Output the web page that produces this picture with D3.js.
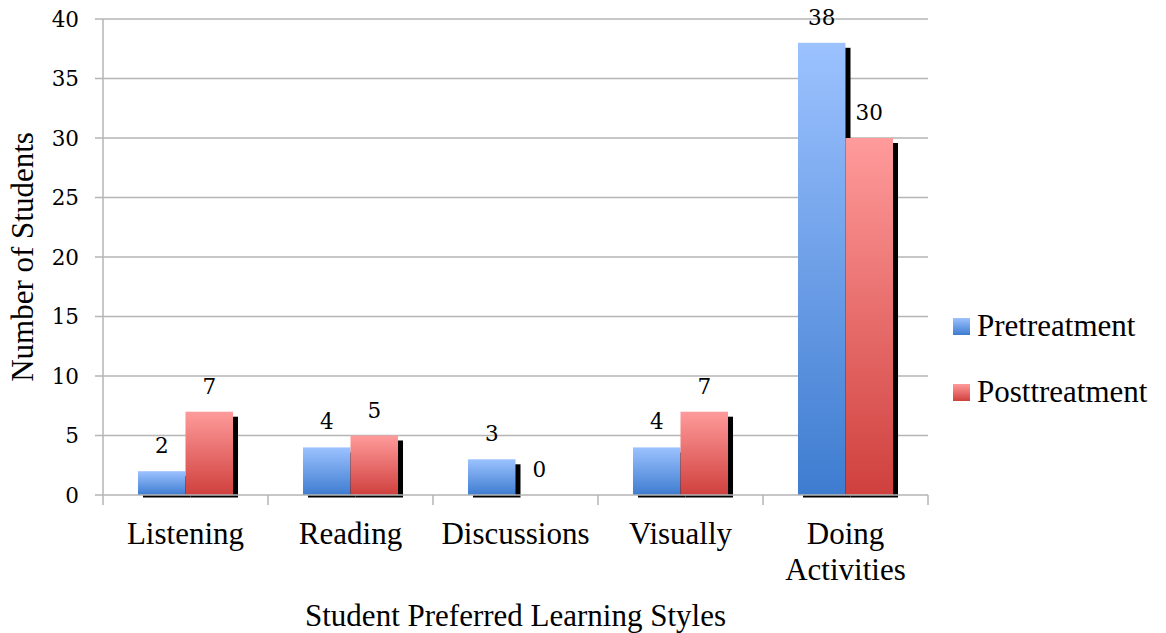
<!DOCTYPE html>
<html><head><meta charset="utf-8">
<script src="https://cdn.jsdelivr.net/npm/d3@7"></script>
<style>
body{margin:0;background:#fff}svg{display:block}
.serif{font-family:"Liberation Serif","Times New Roman",serif}
.num{font-family:"DejaVu Serif",serif}
</style>
</head><body>
<svg id="chart" width="1166" height="633"></svg>
<script>
const categories = ["Listening", "Reading", "Discussions", "Visually", "Doing Activities"];
const seriesNames = ["Pretreatment", "Posttreatment"];
const pretreatment = [2, 4, 3, 4, 38];
const posttreatment = [7, 5, 0, 7, 30];
const yTicks = [0, 5, 10, 15, 20, 25, 30, 35, 40];
const xTitle = "Student Preferred Learning Styles";
const yTitle = "Number of Students";

const svg = d3.select("#chart");
const L = 103, R = 928, T = 19, B = 495;
const x = d3.scaleBand().domain(categories).range([L, R]).paddingInner(0.424).paddingOuter(0.212);
const xs = d3.scaleBand().domain(seriesNames).range([0, x.bandwidth()]);
const y = d3.scaleLinear().domain([0, 40]).range([B, T]);

const defs = svg.append("defs");
const grads = [["gPre", "#9CC2FF", "#3E7CD0"], ["gPost", "#FF9B9B", "#CF403D"]];
grads.forEach(([id, a, b]) => {
  const g = defs.append("linearGradient").attr("id", id).attr("x1", 0).attr("y1", 0).attr("x2", 0).attr("y2", 1);
  g.append("stop").attr("offset", "0%").attr("stop-color", a);
  g.append("stop").attr("offset", "100%").attr("stop-color", b);
});
const fills = ["url(#gPre)", "url(#gPost)"];
const gridColor = "#b5b5b5";

// gridlines
svg.append("g").selectAll("line").data(yTicks.filter(d => d > 0)).join("line")
  .attr("x1", L - 8).attr("x2", R).attr("y1", d => y(d)).attr("y2", d => y(d))
  .attr("stroke", gridColor).attr("stroke-width", 1.5);
svg.append("line").attr("x1", L).attr("x2", L).attr("y1", T).attr("y2", B)
  .attr("stroke", gridColor).attr("stroke-width", 1.5);

// y tick labels
svg.append("g").attr("class", "num").selectAll("text").data(yTicks).join("text")
  .attr("x", 79).attr("y", d => y(d)).attr("dy", "0.36em").attr("text-anchor", "end")
  .attr("font-size", 21.5).attr("fill", "#000")
  .text(d => d);

// bars
const data = categories.map((c, i) => ({ c, vals: [pretreatment[i], posttreatment[i]] }));
const step = x.step(), pad = (step - x.bandwidth()) / 2;
seriesNames.forEach((s, si) => {
  const g = svg.append("g");
  data.forEach(d => {
    const v = d.vals[si];
    if (v <= 0) return;
    const bx = x(d.c) + xs(s), bw = xs.bandwidth(), by = y(v), bh = B - y(v);
    g.append("rect").attr("x", bx + 5).attr("y", by + 5).attr("width", bw).attr("height", Math.max(0, bh - 2.5)).attr("fill", "#000");
    g.append("rect").attr("x", bx).attr("y", by).attr("width", bw).attr("height", bh).attr("fill", fills[si]);
  });
});

// x axis baseline and ticks
svg.append("line").attr("x1", L - 8).attr("x2", R).attr("y1", B).attr("y2", B)
  .attr("stroke", gridColor).attr("stroke-width", 1.5);
const bounds = categories.map(c => x(c) - pad).concat([x(categories[categories.length - 1]) + x.bandwidth() + pad]);
svg.append("g").selectAll("line").data(bounds).join("line")
  .attr("x1", d => d).attr("x2", d => d).attr("y1", B).attr("y2", B + 10)
  .attr("stroke", gridColor).attr("stroke-width", 1.5);

// data labels
seriesNames.forEach((s, si) => {
  svg.append("g").attr("class", "num").selectAll("text").data(data).join("text")
    .attr("x", d => x(d.c) + xs(s) + xs.bandwidth() / 2)
    .attr("y", d => y(d.vals[si]) - 18)
    .attr("text-anchor", "middle")
    .attr("font-size", 21.5).attr("fill", "#000")
    .text(d => d.vals[si]);
});

// category labels
const catG = svg.append("g").attr("class", "serif").attr("font-size", 31).attr("fill", "#000");
categories.forEach(c => {
  const words = c.split(" ");
  const t = catG.append("text").attr("x", x(c) + x.bandwidth() / 2).attr("y", 544).attr("text-anchor", "middle");
  words.forEach((w, i) => t.append("tspan").attr("x", x(c) + x.bandwidth() / 2).attr("dy", i === 0 ? 0 : 36).text(w));
});

// axis titles
svg.append("text").attr("class", "serif").attr("x", (L + R) / 2).attr("y", 626).attr("text-anchor", "middle")
  .attr("font-size", 31).text(xTitle);
svg.append("text").attr("class", "serif").attr("transform", `translate(33,${(T + B) / 2}) rotate(-90)`).attr("text-anchor", "middle")
  .attr("font-size", 31).text(yTitle);

// legend
const leg = svg.append("g").attr("class", "serif");
seriesNames.forEach((s, i) => {
  const ly = 336 + i * 66;
  leg.append("rect").attr("x", 953).attr("y", ly - 18).attr("width", 17).attr("height", 17).attr("fill", fills[i]);
  leg.append("text").attr("x", 977).attr("y", ly).attr("font-size", 31).text(s);
});
</script>
</body></html>
